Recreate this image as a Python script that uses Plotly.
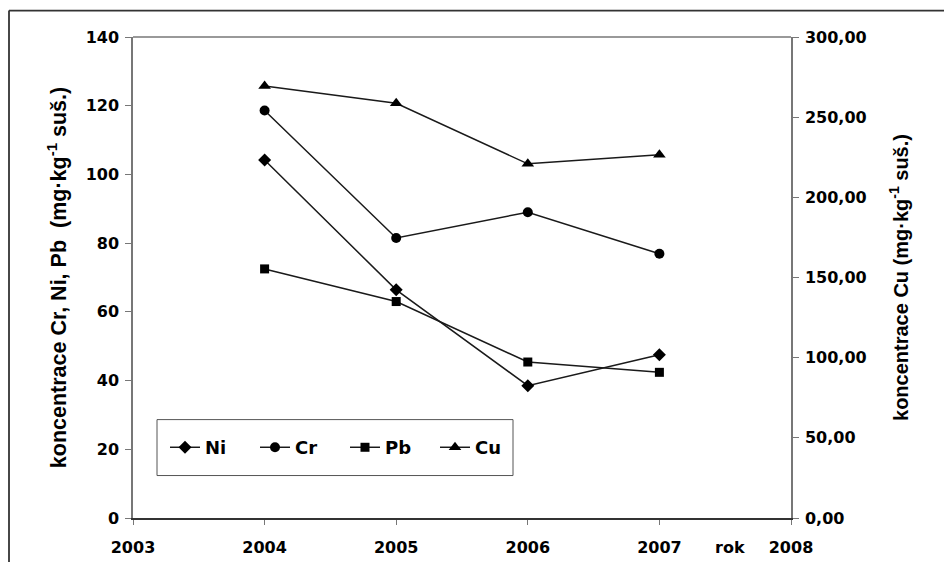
import plotly.graph_objects as go

years = [2004, 2005, 2006, 2007]
ni = [104.2, 66.4, 38.5, 47.5]
cr = [118.6, 81.5, 89.0, 76.9]
pb = [72.5, 63.0, 45.4, 42.4]
cu = [269.5, 258.7, 220.9, 226.5]

x_ticks = [2003, 2004, 2005, 2006, 2007, 2008]
y_left_ticks = [0, 20, 40, 60, 80, 100, 120, 140]
y_right_ticks = [0, 50, 100, 150, 200, 250, 300]

TICKFONT = "DejaVu Sans, sans-serif"
TITLEFONT = "Liberation Sans, Arial, sans-serif"
LINE = dict(color="#1a1a1a", width=1.5)

# plot area in pixels (for paper-coordinate decorations)
L, R, T, B = 133, 791, 37, 518.5
def px(x):
    return (x - L) / (R - L)
def py(y):
    return (B - y) / (B - T)

fig = go.Figure()
fig.add_trace(go.Scatter(x=years, y=ni, name="Ni", mode="lines+markers",
                         line=LINE, marker=dict(symbol="diamond", size=10, color="black")))
fig.add_trace(go.Scatter(x=years, y=cr, name="Cr", mode="lines+markers",
                         line=LINE, marker=dict(symbol="circle", size=10, color="black")))
fig.add_trace(go.Scatter(x=years, y=pb, name="Pb", mode="lines+markers",
                         line=LINE, marker=dict(symbol="square", size=9, color="black")))
fig.add_trace(go.Scatter(x=years, y=cu, name="Cu", mode="lines+markers", yaxis="y2",
                         line=LINE, marker=dict(symbol="triangle-up", size=11, color="black")))

tickfont = dict(family=TICKFONT, size=16, color="black", weight="bold")

fig.update_layout(
    width=944, height=562,
    margin=dict(l=L, r=944 - R, t=T, b=562 - B),
    paper_bgcolor="white", plot_bgcolor="white",
    font=dict(family=TICKFONT, size=16, color="black"),
    separators=", ",
    showlegend=True,
    legend=dict(
        orientation="h", x=px(165), y=py(448), xanchor="left", yanchor="middle",
        bgcolor="rgba(0,0,0,0)", borderwidth=0,
        font=dict(family=TICKFONT, size=18, color="black", weight="bold"),
        itemwidth=30, entrywidth=45, entrywidthmode="pixels",
    ),
    xaxis=dict(
        range=[2003, 2008], tickvals=x_ticks, ticktext=[str(v) for v in x_ticks],
        showgrid=False, zeroline=False, showline=True, linecolor="#333333", linewidth=1.5,
        ticks="outside", ticklen=5, tickcolor="#777777", tickwidth=1,
        tickfont=tickfont, ticklabelstandoff=9, automargin=False,
    ),
    yaxis=dict(
        range=[0, 140], tickvals=y_left_ticks,
        showgrid=False, zeroline=False, showline=True, linecolor="#777777", linewidth=1.5,
        ticks="outside", ticklen=6, tickcolor="#777777", tickwidth=1,
        tickfont=tickfont, ticklabelstandoff=3, automargin=False,
        title=dict(text="<b>koncentrace Cr, Ni, Pb  (mg·kg<sup>-1</sup> suš.)</b>",
                   font=dict(family=TITLEFONT, size=21.5, color="black"), standoff=13),
    ),
    yaxis2=dict(
        range=[0, 300], tickvals=y_right_ticks, tickformat=".2f",
        overlaying="y", side="right",
        showgrid=False, zeroline=False, showline=True, linecolor="#777777", linewidth=1.5,
        ticks="outside", ticklen=6, tickcolor="#777777", tickwidth=1,
        tickfont=tickfont, ticklabelstandoff=3, automargin=False,
        title=dict(text="<b>koncentrace Cu (mg·kg<sup>-1</sup> suš.)</b>",
                   font=dict(family=TITLEFONT, size=20, color="black"), standoff=28),
    ),
)

# plot-area top border
fig.add_shape(type="line", xref="paper", yref="paper", x0=0, x1=1, y0=1, y1=1,
              line=dict(color="#777777", width=1.5))
# legend frame
fig.add_shape(type="rect", xref="paper", yref="paper",
              x0=px(157), x1=px(513), y0=py(476), y1=py(420),
              line=dict(color="#555555", width=1), fillcolor="rgba(0,0,0,0)")
# outer chart frame (only top and left edges fall inside the picture)
fig.add_shape(type="line", xref="paper", yref="paper",
              x0=px(9), x1=px(990), y0=py(10.5), y1=py(10.5),
              line=dict(color="#333333", width=1.8))
fig.add_shape(type="line", xref="paper", yref="paper",
              x0=px(9), x1=px(9), y0=py(10.5), y1=py(600),
              line=dict(color="#333333", width=1.8))

fig.add_annotation(text="<b>rok</b>", xref="paper", yref="paper", x=px(730),
                   y=py(548), showarrow=False, xanchor="center", yanchor="middle",
                   font=dict(family=TICKFONT, size=16, color="black"))

fig.write_html("out.html")
